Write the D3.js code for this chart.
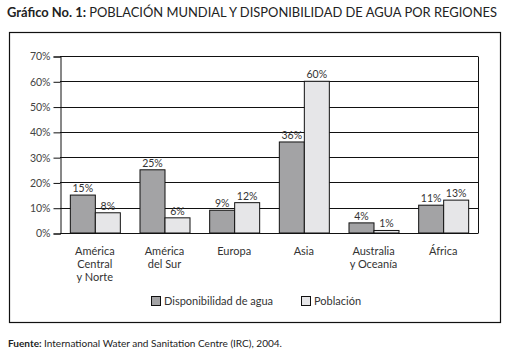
<!DOCTYPE html>
<html><head><meta charset="utf-8">
<script src="https://cdn.jsdelivr.net/npm/d3@7"></script>
<style>body{margin:0;background:#fff;}svg{display:block;font-family:Lato,"Open Sans",sans-serif;}</style>
</head><body>
<svg id="c" width="509" height="359"></svg>
<script>
const categories = [["América","Central","y Norte"],["América","del Sur"],["Europa"],["Asia"],["Australia","y Oceanía"],["África"]];
const seriesNames = ["Disponibilidad de agua","Población"];
const disponibilidad = [15,25,9,36,4,11];
const poblacion = [8,6,12,60,1,13];
const yTicks = [0,10,20,30,40,50,60,70];
const colors = ["#a3a3a5","#e6e6e8"];

(function(){
const svg = d3.select("#c");
// title
const title = svg.append("text").attr("x",7).attr("y",17).attr("font-size",12.5).attr("fill","#222")
  .attr("textLength",490).attr("lengthAdjust","spacingAndGlyphs");
title.append("tspan").attr("font-weight","bold").text("Gráfico No. 1: ");
title.append("tspan").text("POBLACIÓN MUNDIAL Y DISPONIBILIDAD DE AGUA POR REGIONES");

// outer box
svg.append("rect").attr("x",9.5).attr("y",32.5).attr("width",491).attr("height",290).attr("fill","none").attr("stroke","#111").attr("stroke-width",1.2);

const pLeft=60, pRight=478, pTop=56, pBottom=233;
const x = d3.scaleBand().domain(d3.range(categories.length)).range([pLeft,pRight]);
const y = d3.scaleLinear().domain([0,70]).range([pBottom,pTop]);

// gridlines
svg.append("g").selectAll("line").data(yTicks.slice(1)).join("line")
  .attr("x1",pLeft).attr("x2",pRight).attr("y1",d=>Math.round(y(d))+0.5).attr("y2",d=>Math.round(y(d))+0.5)
  .attr("stroke","#111").attr("stroke-width",1);
// right border
svg.append("line").attr("x1",pRight+0.5).attr("x2",pRight+0.5).attr("y1",Math.round(y(70))+0.5).attr("y2",Math.round(y(0))+0.5).attr("stroke","#111");

// bars
const bw = 25;
const series = [disponibilidad, poblacion];
series.forEach((vals,si)=>{
  svg.append("g").selectAll("rect").data(vals).join("rect")
    .attr("x",(d,i)=>x(i)+x.bandwidth()/2 - bw + si*bw + 0.5)
    .attr("y",d=>y(d))
    .attr("width",bw).attr("height",d=>y(0)-y(d))
    .attr("fill",colors[si]).attr("stroke","#111").attr("stroke-width",1);
  svg.append("g").selectAll("text").data(vals).join("text")
    .attr("x",(d,i)=>x(i)+x.bandwidth()/2 - bw/2 + si*bw + 0.5)
    .attr("y",d=>y(d)-3)
    .attr("text-anchor","middle").attr("font-size",10.5).attr("fill","#333")
    .text(d=>d+"%");
});

// y axis
const yAxis = d3.axisLeft(y).tickValues(yTicks).tickFormat(d=>d+"%").tickSize(7).tickPadding(3);
const ya = svg.append("g").attr("transform",`translate(${pLeft+0.5},0.5)`).call(yAxis);
ya.selectAll("line,path").attr("stroke","#111");
ya.selectAll("text").attr("font-size",10.5).attr("fill","#444").attr("font-family","Lato,sans-serif");
// x axis baseline
svg.append("line").attr("x1",pLeft).attr("x2",pRight).attr("y1",Math.round(y(0))+0.5).attr("y2",Math.round(y(0))+0.5).attr("stroke","#111");

// category labels
const cl = svg.append("g").selectAll("text").data(categories).join("text")
  .attr("text-anchor","middle").attr("font-size",11).attr("fill","#333");
cl.each(function(d,i){
  const t=d3.select(this);
  d.forEach((line,j)=>{
    t.append("tspan").attr("x",x(i)+x.bandwidth()/2).attr("y",255+j*13).text(line);
  });
});

// legend
const lx=[151,301];
seriesNames.forEach((n,i)=>{
  svg.append("rect").attr("x",lx[i]+0.5).attr("y",296.5).attr("width",9).attr("height",9).attr("fill",colors[i]).attr("stroke","#111");
  svg.append("text").attr("x",lx[i]+13).attr("y",304.5).attr("font-size",11).attr("fill","#333").text(n);
});

// footnote
const fn = svg.append("text").attr("x",8).attr("y",347).attr("font-size",9.5).attr("fill","#222")
  .attr("textLength",274).attr("lengthAdjust","spacingAndGlyphs");
fn.append("tspan").attr("font-weight","bold").text("Fuente: ");
fn.append("tspan").text("International Water and Sanitation Centre (IRC), 2004.");
})();
</script>
</body></html>
